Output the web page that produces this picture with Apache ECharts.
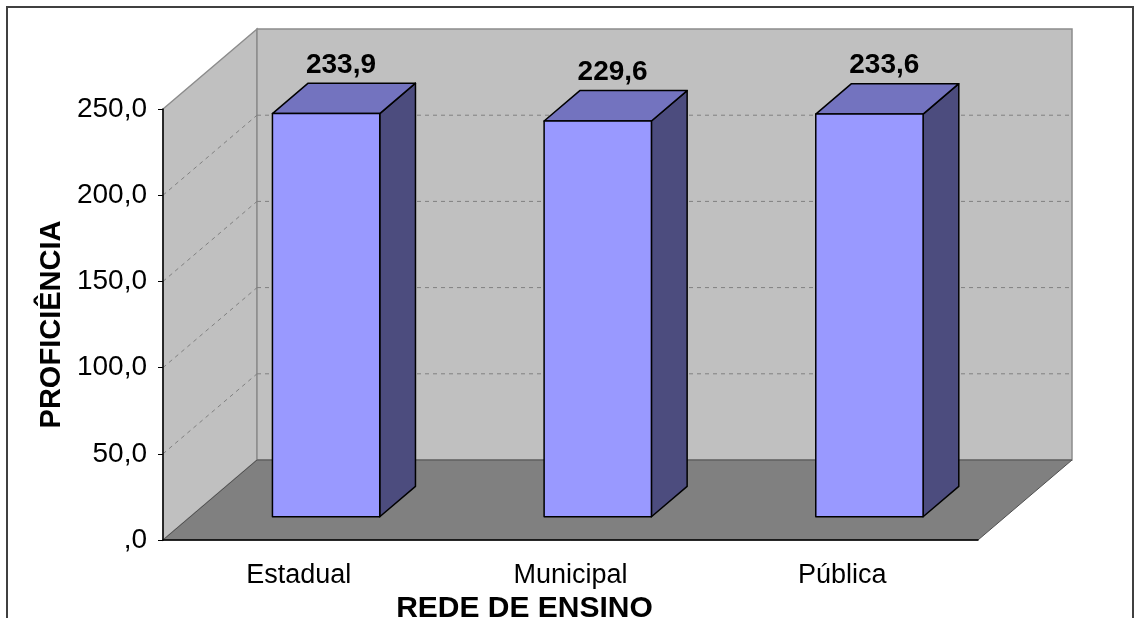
<!DOCTYPE html>
<html>
<head>
<meta charset="utf-8">
<script src="https://cdn.jsdelivr.net/npm/echarts@6/dist/echarts.min.js"></script>
<style>
  html, body { margin: 0; padding: 0; background: #fff; }
  #main { width: 1135px; height: 618px; }
</style>
</head>
<body>
<div id="main"></div>
<script>
const categories = ['Estadual', 'Municipal', 'Pública']
const proficiencia = [233.9, 229.6, 233.6]
const yTicks = [0, 50, 100, 150, 200, 250]

// depth of the 3d box (pixels) and bar placement inside it
const DX = 94, DY = -80
const BAR_FRONT = 0.29, BAR_DEPTH = 0.38, BAR_WIDTH = 0.395
const FONT = "'Liberation Sans', Arial, sans-serif"

const fmt = v => v === 0 ? ',0' : v.toFixed(1).replace('.', ',')

function main() {
  var chart = echarts.init(document.getElementById('main'))

  let option = {
    animation: false,
    backgroundColor: '#fff',
    textStyle: { fontFamily: FONT },
    grid: { left: 163, top: 109, right: 157, bottom: 78, outerBoundsMode: 'none', containLabel: false },
    graphic: [{
      type: 'rect',
      shape: { x: 7, y: 7, width: 1126, height: 640 },
      style: { fill: null, stroke: '#404040', lineWidth: 2 },
      silent: true
    }],
    xAxis: {
      type: 'category',
      data: categories,
      name: 'REDE DE ENSINO',
      nameLocation: 'middle',
      nameGap: 45,
      nameTextStyle: { fontSize: 30, fontWeight: 'bold', color: '#000', padding: [0, 92, 0, 0] },
      axisLine: { lineStyle: { color: '#000', width: 1.5 } },
      axisTick: { length: 8, lineStyle: { color: '#000' } },
      axisLabel: { fontSize: 27, color: '#000', margin: 22 }
    },
    yAxis: {
      type: 'value',
      min: 0, max: 250, interval: 50,
      name: 'PROFICIÊNCIA',
      nameLocation: 'middle',
      nameRotate: 90,
      nameGap: 95,
      nameTextStyle: { fontSize: 29, fontWeight: 'bold', color: '#000' },
      axisLine: { show: true, lineStyle: { color: '#000', width: 1.5 } },
      axisTick: { show: true, length: 5, lineStyle: { color: '#000' } },
      axisLabel: { fontSize: 28, color: '#000', margin: 16, formatter: fmt },
      splitLine: { show: false }
    },
    series: [
      {
        // walls and floor
        type: 'custom',
        z: -2,
        silent: true,
        clip: false,
        data: [[0, 0]],
        renderItem: (params, api) => {
          const cs = params.coordSys
          const x0 = cs.x, x1 = cs.x + cs.width, y0 = cs.y, y1 = cs.y + cs.height
          return {
            type: 'group',
            children: [
              {
                type: 'polygon',
                shape: { points: [[x0, y1], [x0, y0], [x0 + DX, y0 + DY], [x0 + DX, y1 + DY]] },
                style: { fill: '#c0c0c0', stroke: '#8c8c8c', lineWidth: 1.5 }
              },
              {
                type: 'rect',
                shape: { x: x0 + DX, y: y0 + DY, width: cs.width, height: cs.height },
                style: { fill: '#c0c0c0', stroke: '#8c8c8c', lineWidth: 1.5 }
              },
              {
                type: 'polygon',
                shape: { points: [[x0, y1], [x1, y1], [x1 + DX, y1 + DY], [x0 + DX, y1 + DY]] },
                style: { fill: '#808080', stroke: '#505050', lineWidth: 1 }
              }
            ]
          }
        }
      },
      {
        // dashed gridlines on side and back walls
        type: 'custom',
        z: -1,
        silent: true,
        clip: false,
        data: yTicks.filter(v => v > 0 && v < 250).map(v => [0, v]),
        renderItem: (params, api) => {
          const cs = params.coordSys
          const y = api.coord([0, api.value(1)])[1]
          const x0 = cs.x, x1 = cs.x + cs.width
          const st = { stroke: '#808080', lineWidth: 1, lineDash: [4, 4] }
          return {
            type: 'group',
            children: [
              { type: 'line', shape: { x1: x0, y1: y, x2: x0 + DX, y2: y + DY }, style: st },
              { type: 'line', shape: { x1: x0 + DX, y1: y + DY, x2: x1 + DX, y2: y + DY }, style: st }
            ]
          }
        }
      },
      {
        // 3d bars
        type: 'custom',
        z: 3,
        clip: false,
        data: proficiencia.map((v, i) => [i, v]),
        renderItem: (params, api) => {
          const i = api.value(0), v = api.value(1)
          const base = api.coord([i, 0])
          const top = api.coord([i, v])
          const w = api.size([1, 0])[0] * BAR_WIDTH
          const sx = DX * BAR_FRONT, sy = DY * BAR_FRONT
          const bx = DX * BAR_DEPTH, by = DY * BAR_DEPTH
          const l = base[0] + sx - w / 2, r = l + w
          const yb = base[1] + sy, yt = top[1] + sy
          const line = { stroke: '#000', lineWidth: 1.5, lineJoin: 'round' }
          return {
            type: 'group',
            children: [
              {
                type: 'polygon',
                shape: { points: [[r, yt], [r + bx, yt + by], [r + bx, yb + by], [r, yb]] },
                style: { fill: '#4c4c7e', ...line }
              },
              {
                type: 'polygon',
                shape: { points: [[l, yt], [r, yt], [r + bx, yt + by], [l + bx, yt + by]] },
                style: { fill: '#7373bf', ...line }
              },
              {
                type: 'rect',
                shape: { x: l, y: yt, width: w, height: yb - yt },
                style: { fill: '#9999ff', ...line }
              },
              {
                type: 'text',
                x: (l + r + bx) / 2 - 3,
                y: yt + by - 4,
                style: {
                  text: fmt(v),
                  fontSize: 28, fontWeight: 'bold', fontFamily: FONT,
                  fill: '#000', align: 'center', verticalAlign: 'bottom'
                }
              }
            ]
          }
        }
      }
    ]
  }

  chart.setOption(option)
}

main()
</script>
</body>
</html>
